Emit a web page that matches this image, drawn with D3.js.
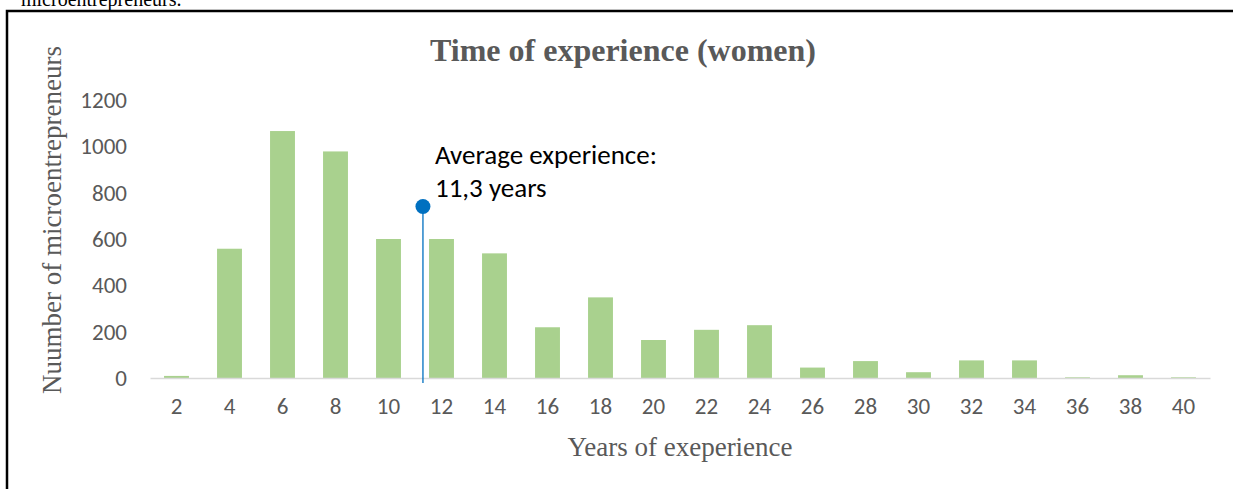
<!DOCTYPE html>
<html>
<head>
<meta charset="utf-8">
<script src="https://cdn.jsdelivr.net/npm/d3@7"></script>
<style>
  body { margin: 0; background: #fff; }
  svg { display: block; }
</style>
</head>
<body>
<script>
// years of experience (categories) and number of women microentrepreneurs
var years = [2, 4, 6, 8, 10, 12, 14, 16, 18, 20, 22, 24, 26, 28, 30, 32, 34, 36, 38, 40];
var counts = [9, 558, 1066, 978, 600, 600, 538, 219, 348, 164, 208, 228, 45, 73, 25, 76, 76, 3, 12, 3];
var yTicks = [0, 200, 400, 600, 800, 1000, 1200];

// average marker (x in years, y height of the marker)
var avgYears = 11.3;
var avgMarkerHeight = 740;
var avgText = ["Average experience:", "11,3 years"];

var W = 1233, H = 489;
var svg = d3.select("body").append("svg")
    .attr("width", W)
    .attr("height", H);

var serif = "'Liberation Serif', 'Times New Roman', serif";
var sans = "Calibri, Carlito, 'Open Sans', sans-serif";

// cut-off caption from the page above the figure
svg.append("text")
    .attr("x", 21)
    .attr("y", 6)
    .style("font-family", serif)
    .style("font-size", "20px")
    .attr("fill", "#000")
    .text("microentrepreneurs.");

// frame
svg.append("rect")
    .attr("x", 7)
    .attr("y", 11)
    .attr("width", W + 20)
    .attr("height", H + 20)
    .attr("fill", "none")
    .attr("stroke", "#000")
    .attr("stroke-width", 2.5);

var plotLeft = 150, plotRight = 1210, plotTop = 100, plotBottom = 378;

var x = d3.scaleBand()
    .domain(years)
    .range([plotLeft, plotRight])
    .paddingInner(0.53)
    .paddingOuter(0.265);

var y = d3.scaleLinear()
    .domain([0, 1200])
    .range([plotBottom, plotTop]);

// continuous x for the average marker, lined up with the band centres
var xLin = d3.scaleLinear()
    .domain([years[0], years[years.length - 1]])
    .range([x(years[0]) + x.bandwidth() / 2, x(years[years.length - 1]) + x.bandwidth() / 2]);

// bars
svg.append("g").selectAll("rect")
    .data(counts)
    .enter().append("rect")
    .attr("x", function (d, i) { return x(years[i]); })
    .attr("y", function (d) { return y(d); })
    .attr("width", x.bandwidth())
    .attr("height", function (d) { return plotBottom - y(d); })
    .attr("fill", "#A9D18E");

// x axis
var xAxis = svg.append("g")
    .attr("transform", "translate(0," + plotBottom + ")")
    .call(d3.axisBottom(x).tickSize(0).tickPadding(20));
xAxis.select(".domain").attr("stroke", "#D9D9D9").attr("stroke-width", 1.3);
xAxis.selectAll("text")
    .style("font-family", sans)
    .style("font-size", "23px")
    .attr("fill", "#595959");

// y axis (labels only)
var yAxis = svg.append("g")
    .attr("transform", "translate(" + 127 + ",0)")
    .call(d3.axisLeft(y).tickValues(yTicks).tickFormat(d3.format("d")).tickSize(0).tickPadding(0));
yAxis.select(".domain").remove();
yAxis.selectAll("text")
    .style("font-family", sans)
    .style("font-size", "23px")
    .attr("fill", "#595959");

// average marker
var ax = xLin(avgYears);
svg.append("line")
    .attr("x1", ax).attr("x2", ax)
    .attr("y1", plotBottom + 5)
    .attr("y2", y(avgMarkerHeight))
    .attr("stroke", "#0070C0")
    .attr("stroke-width", 1.3);
svg.append("circle")
    .attr("cx", ax)
    .attr("cy", y(avgMarkerHeight))
    .attr("r", 7.5)
    .attr("fill", "#0070C0");

svg.append("g").selectAll("text")
    .data(avgText)
    .enter().append("text")
    .attr("x", 435)
    .attr("y", function (d, i) { return 164 + i * 33; })
    .style("font-family", sans)
    .style("font-size", "27px")
    .attr("fill", "#000")
    .text(function (d) { return d; });

// title
svg.append("text")
    .attr("x", 623)
    .attr("y", 61)
    .attr("text-anchor", "middle")
    .style("font-family", serif)
    .style("font-weight", "bold")
    .style("font-size", "32px")
    .attr("fill", "#595959")
    .text("Time of experience (women)");

// axis titles
svg.append("text")
    .attr("transform", "translate(61,220) rotate(-90)")
    .attr("text-anchor", "middle")
    .style("font-family", serif)
    .style("font-size", "27px")
    .attr("fill", "#595959")
    .text("Nuumber of microentrepreneurs");

svg.append("text")
    .attr("x", 680)
    .attr("y", 456)
    .attr("text-anchor", "middle")
    .style("font-family", serif)
    .style("font-size", "27px")
    .attr("fill", "#595959")
    .text("Years of exeperience");
</script>
</body>
</html>
